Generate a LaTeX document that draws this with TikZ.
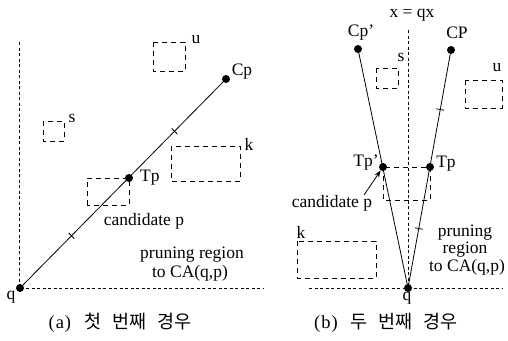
\documentclass[tikz,border=0pt]{standalone}
\usepackage{fontspec}
\setmainfont{Liberation Serif}
\newfontfamily\krfont{Noto Sans CJK KR}
\usetikzlibrary{decorations.markings,arrows.meta}
\begin{document}
\begin{tikzpicture}[x=1pt,y=-1pt,
  font=\fontsize{17.5}{19}\selectfont,
  axis/.style={dash pattern=on 3pt off 2.5pt, line width=0.8pt},
  mbr/.style={draw, dash pattern=on 5pt off 4pt, line width=0.7pt},
  pt/.style={circle, fill, inner sep=0, minimum size=8pt},
  ray/.style={line width=0.8pt},
  lbl/.style={inner sep=0},
  ticks/.style={postaction={decorate}, decoration={markings,
     mark=at position 0.25 with {\draw[line width=0.8pt] (0,-4pt) -- (0,4pt);},
     mark=at position 0.75 with {\draw[line width=0.8pt] (0,-4pt) -- (0,4pt);}}},
  capt/.style={inner sep=0, font=\fontsize{18.5}{20}\selectfont}]
\useasboundingbox (0,0) rectangle (508,340);

% ---------- panel (a) ----------
\coordinate (aV) at (19,42);
\coordinate (aO) at (19,288);
\coordinate (aH) at (263,288);
\draw[axis] (aV) -- (aO) -- (aH);

\node[pt] (qa) at (20,288) {};
\node[pt] (Cpa) at (226,79) {};
\node[pt] (Tpa) at (129,178) {};
\draw[ray,ticks] (qa.center) -- (Cpa.center);

\draw[mbr] (153,42) rectangle (185,71);
\draw[mbr] (43,121) rectangle (64,141);
\draw[mbr] (171,146) rectangle (240,181);
\draw[mbr] (87,205) rectangle (Tpa.center);

\node[lbl] (qal) at (11,297) {q};
\node[lbl,anchor=west] (Tpal) at (140,178) {Tp};
\node[lbl] (Cpal) at (242,72) {Cp};
\node[lbl] (ual) at (196,40) {u};
\node[lbl] (sal) at (72,118) {s};
\node[lbl] (kal) at (249,144) {k};
\node[lbl] (canda) at (144,221) {candidate p};
\node[lbl] (pra1) at (192,255) {pruning region};
\node[lbl] (pra2) at (190,273) {to CA(q,p)};
\node[capt] (capa) at (120,323) {(\kern1pt a\kern1pt)\hspace{0.7em}{\krfont 첫\hspace{0.6em}번째\hspace{0.6em}경우}};

% ---------- panel (b) ----------
\coordinate (bV) at (408,30);
\coordinate (bO) at (408,288);
\coordinate (bL) at (309,288);
\coordinate (bR) at (502,288);
\draw[axis] (bV) -- (bO);
\draw[axis] (bL) -- (bR);
\node[lbl] (xl) at (412,15) {x = qx};

\node[pt] (Cpbp) at (358,49) {};
\node[pt] (CPb) at (451,50) {};
\node[pt] (qb) at (408,288) {};
\node[pt] (Tpbp) at (383,167) {};
\node[pt] (Tpb) at (430,167) {};
\draw[ray] (Cpbp.center) -- (qb.center);
\draw[ray,ticks] (qb.center) -- (CPb.center);

\draw[mbr] (Tpbp.center) rectangle (430,200);
\draw[mbr] (376,68) rectangle (398,88);
\draw[mbr] (465,80) rectangle (502,108);
\draw[mbr] (297,241) rectangle (376,278);

\node[lbl] (Cpbpl) at (361,33) {Cp'};
\node[lbl] (CPbl) at (457,33) {CP};
\node[lbl] (sbl) at (401,57) {s};
\node[lbl] (ubl) at (497,68) {u};
\node[lbl] (kbl) at (301,232) {k};
\node[lbl] (Tpbpl) at (366,163) {Tp'};
\node[lbl] (Tpbl) at (446,164) {Tp};
\node[lbl] (qbl) at (407,298) {q};
\node[lbl] (candb) at (332,203) {candidate p};
\coordinate (arrtail) at (364,195);
\draw[line width=0.8pt,-{Stealth[length=7pt,width=5pt]}] (arrtail) -- (Tpbp);
\node[lbl] (prb1) at (465,233) {pruning};
\node[lbl] (prb2) at (465,250) {region};
\node[lbl] (prb3) at (467,267) {to CA(q,p)};
\node[capt] (capb) at (386,323) {(\kern1pt b\kern1pt)\hspace{0.7em}{\krfont 두\hspace{0.6em}번째\hspace{0.6em}경우}};
\end{tikzpicture}
\end{document}
